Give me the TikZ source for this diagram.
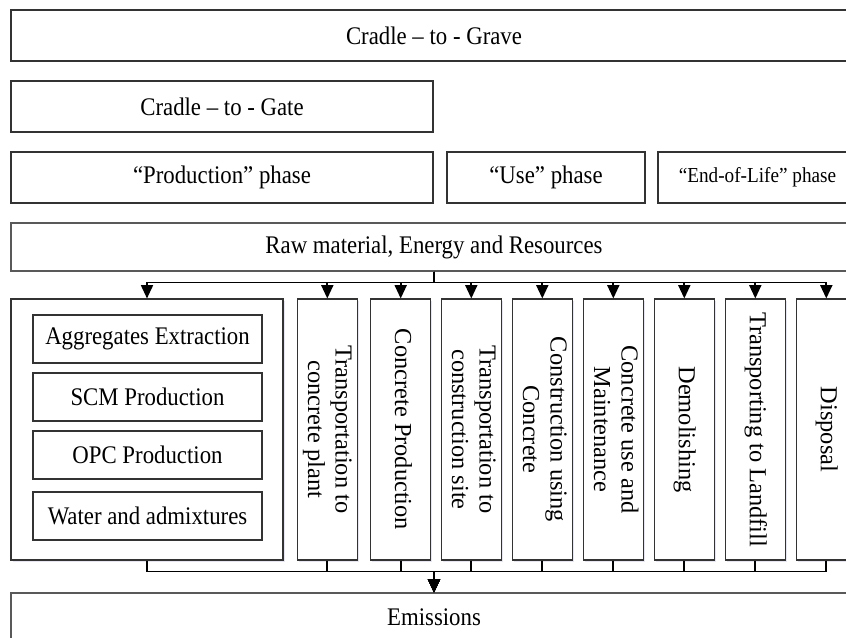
\documentclass[tikz,border=0pt]{standalone}
\usepackage{fontspec}
\setmainfont{Liberation Serif}
\newfontfamily\flatfont[FakeStretch=0.9]{Liberation Serif}
\usepackage{graphicx}
\usetikzlibrary{arrows.meta,shadows}
\tikzstyle{box} = [draw=black!80,line width=0.8pt,fill=white,inner sep=0pt,align=center,font=\flatfont\fontsize{19}{22}\selectfont]
\tikzstyle{stage} = [box,minimum width=45pt,minimum height=195.75pt,font=\fontsize{18.3}{20.5}\selectfont,drop shadow={shadow xshift=1.2pt,shadow yshift=-1.2pt,opacity=0.3,fill=blue!30!gray!50}]
\tikzstyle{link} = [line width=1.3pt,-{Triangle[length=10pt,width=9pt]}]

\begin{document}
\begin{tikzpicture}[x=0.75pt,y=-0.75pt]
	\useasboundingbox (0,0) rectangle (846,637);
	\clip (0,0) rectangle (846,637);
	\begin{scope}
		
		% System boundaries:
		\node[box,minimum width=634.5pt,minimum height=38.25pt] (grave) at (434,35.5) {Cradle – to - Grave};
		\node[box,minimum width=316.5pt,minimum height=38.25pt] (gate) at (222,106.5) {Cradle – to - Gate};
		
		% Phases:
		\node[box,minimum width=316.5pt,minimum height=38.25pt] (prod) at (222,177.5) {“Production” phase};
		\node[box,minimum width=148.5pt,minimum height=38.25pt] (use) at (546,177.5) {“Use” phase};
		\node[box,minimum width=149.25pt,minimum height=38.25pt,font=\flatfont\fontsize{16}{19}\selectfont] (eol) at (757.5,177.5) {“End-of-Life” phase};
		
		% Inputs and outputs:
		\node[box,draw=black!65,minimum width=634.5pt,minimum height=36pt] (raw) at (434,247) {Raw material, Energy and Resources};
		\node[box,draw=black!65,minimum width=634.5pt,minimum height=36pt] (emis) at (434,617) {Emissions};
		
		% Production group with its four steps:
		\node[stage,minimum width=204pt] (group) at (147,429.5) {};
		\foreach \y/\name/\txt in {339/agg/Aggregates Extraction,397/scm/SCM Production,455/opc/OPC Production,516/wat/Water and admixtures}
		{
			\node[box,minimum width=171.75pt,minimum height=36pt] (\name) at (147.5,\y) {\txt};
		}
		
		% Stages, text turned to read downwards:
		\foreach \x/\name/\txt in {327.3/s1/{Transportation to\\concrete plant},400.7/s2/{Concrete Production},471.3/s3/{Transportation to\\construction site},542.3/s4/{Construction using\\Concrete},613.3/s5/{Concrete use and\\Maintenance},684.3/s6/{Demolishing},755.3/s7/{Transporting to Landfill},826.3/s8/{Disposal}}
		{
			\node[stage] (\name) at (\x,429.5) {\rotatebox{-90}{\begin{tabular}{@{}c@{}}\txt\end{tabular}}};
		}
		
		% Flows in and out:
		\foreach \n in {group,s1,s2,s3,s4,s5,s6,s7,s8}
		{
			\draw[link] (raw.south) -- ++(0,11) -| (\n.north);
			\draw[link] (\n.south) -- ++(0,11) -| (emis.north);
		}
		
	\end{scope}
\end{tikzpicture}
\end{document}
